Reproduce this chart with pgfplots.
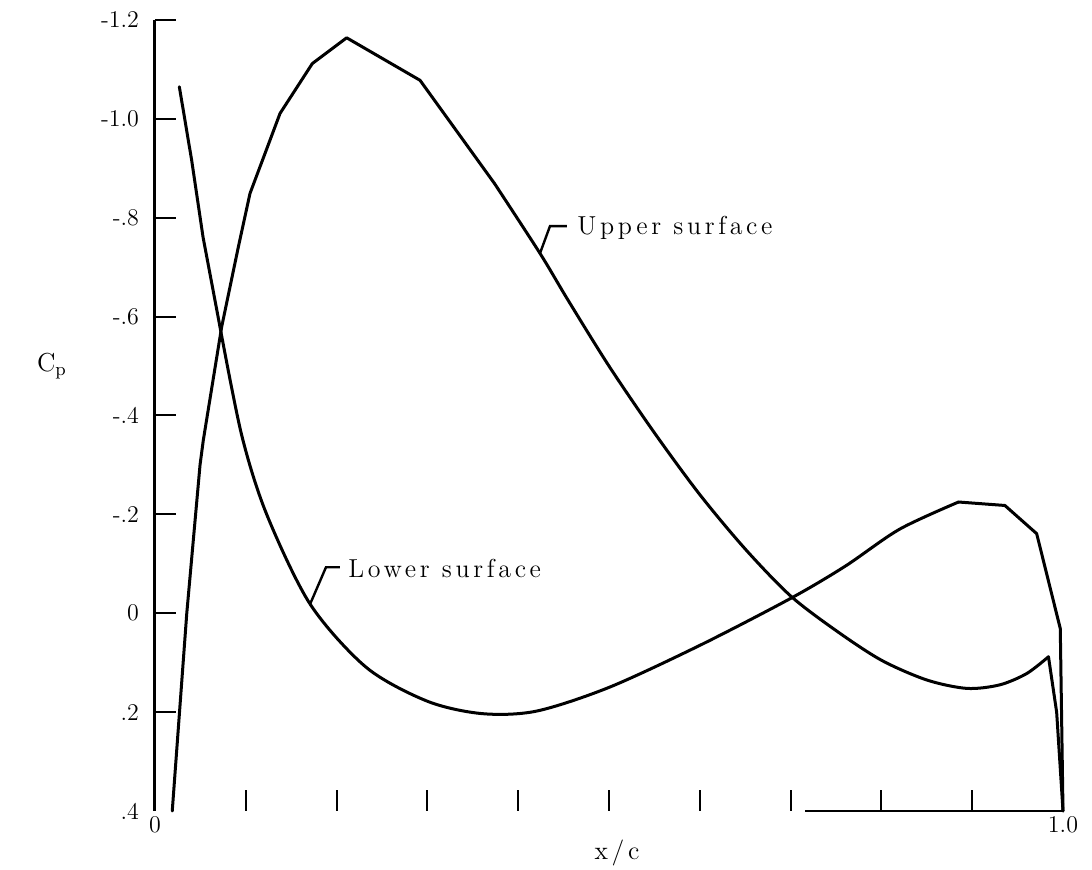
\documentclass[border=0pt]{standalone}
\usepackage{fontspec}
\usepackage{pgfplots}
\pgfplotsset{compat=1.18}
\newfontfamily\spaced[LetterSpace=14]{Latin Modern Roman}
\begin{document}
\begin{tikzpicture}
\useasboundingbox (-77.5pt,-29.5pt) rectangle (468.5pt,405.5pt);
\begin{axis}[
 at={(0,0)},anchor=south west,
 scale only axis,width=454pt,height=395.5pt,
 xmin=0,xmax=1,ymin=-1.2,ymax=0.4,y dir=reverse,
 axis x line*=bottom,axis y line*=left,
 x axis line style={draw=none},
 y axis line style={line width=1.5pt},
 tick align=inside,major tick length=10.5pt,
 tick style={line width=1pt,black},
 xtick={0.1,0.2,0.3,0.4,0.5,0.6,0.7,0.8,0.9},xticklabels={},
 extra x ticks={0,1},extra x tick labels={0,1.0},
 extra x tick style={major tick length=0pt},
 ytick={-1.2,-1,-0.8,-0.6,-0.4,-0.2,0,0.2},
 yticklabels={-1.2,-1.0,-.8,-.6,-.4,-.2,0,.2},
 extra y ticks={0.4},extra y tick labels={.4},
 extra y tick style={major tick length=0pt},
 ticklabel style={font=\fontsize{12}{14}\selectfont},
 yticklabel style={xshift=-4.5pt},
 xticklabel style={yshift=1pt},
 clip=false]
% upper surface
\addplot[black,line width=1.5pt,line join=round,line cap=round,mark=none] coordinates {
 (0.019,0.40) (0.035,0.0) (0.0496,-0.30) (0.0532,-0.35) (0.0734,-0.579)
 (0.0918,-0.741) (0.1046,-0.849) (0.1377,-1.011) (0.1733,-1.112) (0.2111,-1.164)
 (0.2919,-1.078) (0.374,-0.869)
};
\addplot[black,line width=1.5pt,line cap=round,mark=none,smooth] coordinates {
 (0.374,-0.869) (0.424,-0.728) (0.455,-0.633) (0.5,-0.50)
 (0.55,-0.365) (0.6,-0.24) (0.65,-0.13) (0.70,-0.035) (0.75,0.035)
 (0.80,0.095) (0.85,0.135) (0.894,0.152) (0.93,0.145) (0.96,0.122)
 (0.984,0.088)
};
\addplot[black,line width=1.5pt,line join=round,line cap=round,mark=none] coordinates {
 (0.984,0.088) (0.993,0.20) (1.0,0.40)
};
% lower surface
\addplot[black,line width=1.5pt,line join=round,line cap=round,mark=none] coordinates {
 (0.0268,-1.065) (0.0404,-0.916) (0.0529,-0.761) (0.0716,-0.579)
};
\addplot[black,line width=1.5pt,line cap=round,mark=none,smooth] coordinates {
 (0.0716,-0.579) (0.0955,-0.36)
 (0.123,-0.20) (0.171,-0.018) (0.233,0.110) (0.30,0.178) (0.36,0.203)
 (0.42,0.198) (0.5,0.150) (0.6,0.065) (0.70,-0.030) (0.76,-0.095)
 (0.82,-0.170) (0.885,-0.225)
};
\addplot[black,line width=1.5pt,line join=round,line cap=round,mark=none] coordinates {
 (0.885,-0.225) (0.936,-0.218) (0.971,-0.161) (0.997,0.031) (1.0,0.40)
};
% partial bottom line
\addplot[black,line width=0.8pt,mark=none] coordinates {(0.716,0.4) (1.0,0.4)};
% leaders
\draw[line width=1.2pt] (axis cs:0.424,-0.728) -- (axis cs:0.435,-0.783) -- (axis cs:0.4537,-0.783);
\node[anchor=west,inner sep=0pt,font=\spaced\fontsize{13}{15}\selectfont] at (axis cs:0.4648,-0.779) {Upper surface};
\draw[line width=1.2pt] (axis cs:0.1707,-0.018) -- (axis cs:0.1883,-0.093) -- (axis cs:0.2037,-0.093);
\node[anchor=west,inner sep=0pt,font=\spaced\fontsize{13}{15}\selectfont] at (axis cs:0.2126,-0.091) {Lower surface};
\end{axis}
\node[font=\spaced\fontsize{13}{15}\selectfont] at (231pt,-21pt) {x/c};
\node[font=\spaced\fontsize{13}{15}\selectfont] at (-51.5pt,222.5pt) {C$_{\rm p}$};
\end{tikzpicture}
\end{document}
